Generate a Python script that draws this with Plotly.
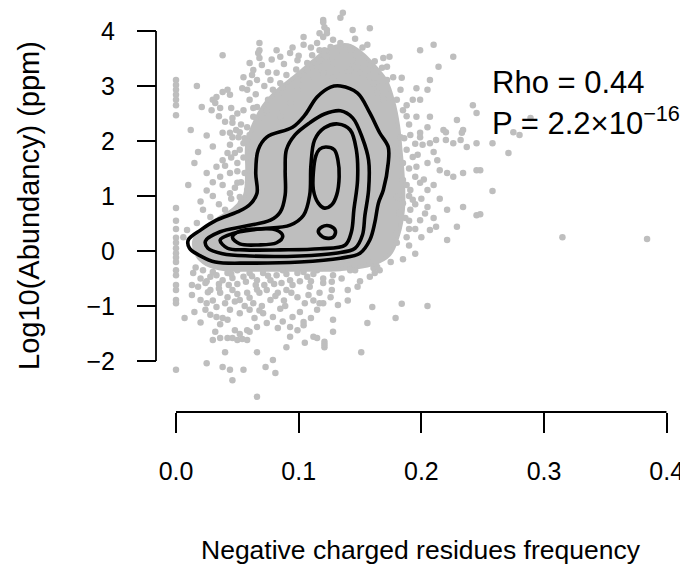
import plotly.graph_objects as go

GRAY = "#BEBEBE"
FONT = "Liberation Sans, Arial, Helvetica, sans-serif"

# ---------------- data ----------------
x_ticks = [0.0, 0.1, 0.2, 0.3, 0.4]
x_ticktext = ["0.0", "0.1", "0.2", "0.3", "0.4"]
y_ticks = [-2, -1, 0, 1, 2, 3, 4]

# outline of the region where points overlap into a solid grey mass
dense_core = [(0.015, 0.20), (0.022, 0.40), (0.034, 0.58), (0.047, 0.76), (0.056, 1.00),
              (0.058, 1.45), (0.058, 1.92), (0.063, 2.28), (0.071, 2.62), (0.082, 2.90),
              (0.094, 3.12), (0.106, 3.34), (0.117, 3.55), (0.128, 3.70), (0.140, 3.74),
              (0.151, 3.60), (0.161, 3.38), (0.171, 3.10), (0.177, 2.72), (0.181, 2.28),
              (0.183, 1.84), (0.185, 1.29), (0.185, 0.75), (0.181, 0.29), (0.174, -0.06),
              (0.160, -0.24), (0.134, -0.33), (0.101, -0.34), (0.068, -0.34), (0.040, -0.33),
              (0.025, -0.24), (0.017, -0.07), (0.015, 0.20)]

left_column = [(0, 3.11), (0, 3.02), (0, 2.93), (0, 2.84), (0, 2.75), (0, 2.65), (0, 2.47),
               (0, 0.78), (0, 0.55), (0, 0.40), (0, 0.24), (0, 0.15), (0, 0.05), (0, -0.04),
               (0, -0.12), (0, -0.20), (0, -0.35), (0, -0.44), (0, -0.62), (0, -0.71),
               (0, -0.89), (0, -0.95), (0, -2.16)]

upper_left = [(0.017, 3.0), (0.038, 3.56), (0.030, 2.75), (0.033, 2.80), (0.038, 2.89), (0.042, 2.93),
              (0.044, 2.84), (0.029, 2.56), (0.036, 2.60), (0.032, 2.69), (0.046, 2.42), (0.046, 2.33),
              (0.051, 2.07), (0.044, 2.15), (0.055, 3.16), (0.060, 3.42), (0.063, 3.29), (0.068, 3.65),
              (0.068, 3.78), (0.067, 3.60), (0.068, 3.51), (0.060, 3.05), (0.066, 3.11), (0.058, 2.93),
              (0.054, 2.96), (0.055, 2.56), (0.060, 2.75), (0.066, 2.62), (0.063, 2.44), (0.068, 2.33),
              (0.058, 2.25), (0.052, 2.16), (0.060, 2.11), (0.018, 1.80), (0.025, 1.42), (0.010, 1.20),
              (0.033, 1.53), (0.038, 1.65), (0.042, 1.78), (0.036, 1.35), (0.044, 1.42), (0.050, 1.60),
              (0.052, 1.84), (0.055, 1.96), (0.046, 2.07), (0.038, 2.15), (0.044, 1.93), (0.038, 1.20),
              (0.044, 1.05), (0.050, 1.24), (0.052, 0.98), (0.058, 1.11), (0.056, 1.42), (0.028, 0.62),
              (0.017, 0.51), (0.009, 0.38), (0.006, 0.25), (0.030, 1.00), (0.035, 0.85), (0.040, 0.75),
              (0.045, 0.95), (0.048, 1.15), (0.030, 1.25), (0.025, 1.10), (0.020, 0.90), (0.045, 1.70),
              (0.040, 1.55), (0.050, 1.45), (0.048, 1.78), (0.055, 1.70), (0.053, 2.30), (0.050, 2.50),
              (0.045, 2.60), (0.040, 2.35), (0.035, 2.45), (0.021, 2.62), (0.025, 2.10), (0.030, 1.90),
              (0.015, 1.60), (0.012, 2.20), (0.022, 0.75), (0.028, 0.35), (0.053, 1.25), (0.049, 2.20),
              (0.056, 2.05), (0.053, 0.88), (0.062, 3.20), (0.070, 3.38), (0.072, 3.00), (0.065, 2.85),
              (0.075, 2.75), (0.070, 2.48), (0.063, 2.60)]

upper_top = [(0.075, 3.25), (0.077, 3.11), (0.082, 3.24), (0.079, 2.93), (0.083, 2.84), (0.087, 2.98),
             (0.090, 2.84), (0.082, 3.65), (0.085, 3.53), (0.093, 3.60), (0.099, 3.47), (0.104, 3.75),
             (0.107, 3.42), (0.104, 3.89), (0.111, 3.56), (0.120, 4.20), (0.121, 4.07), (0.123, 3.96),
             (0.117, 3.65), (0.115, 3.78), (0.074, 2.56), (0.082, 2.56), (0.085, 2.44), (0.093, 2.69),
             (0.099, 2.93), (0.104, 3.11), (0.107, 3.29), (0.112, 3.16), (0.115, 3.35), (0.136, 4.33),
             (0.134, 4.24), (0.120, 4.16), (0.123, 4.02), (0.120, 3.89), (0.144, 4.02), (0.158, 4.05),
             (0.156, 3.75), (0.142, 3.65), (0.134, 3.78), (0.128, 3.84), (0.131, 3.60), (0.126, 3.71),
             (0.123, 3.53), (0.128, 3.42), (0.144, 3.47), (0.148, 3.35), (0.150, 3.24), (0.142, 3.29),
             (0.156, 3.29), (0.158, 3.16), (0.169, 3.51), (0.174, 3.53), (0.172, 3.35), (0.168, 3.33),
             (0.161, 3.05), (0.166, 2.98), (0.172, 3.11), (0.177, 3.16), (0.184, 3.15), (0.183, 2.93),
             (0.174, 2.80), (0.180, 2.75), (0.169, 2.75), (0.164, 2.87), (0.117, 3.96), (0.121, 3.65),
             (0.117, 3.47), (0.120, 3.24), (0.128, 3.16), (0.136, 3.24), (0.139, 3.05), (0.146, 3.86),
             (0.152, 3.70), (0.162, 3.45), (0.110, 3.70), (0.098, 3.30), (0.090, 3.20), (0.078, 3.48),
             (0.088, 3.40), (0.095, 3.70), (0.100, 3.55), (0.085, 3.05)]

right_side = [(0.199, 3.65), (0.210, 3.75), (0.226, 3.53), (0.214, 3.35), (0.207, 3.11), (0.196, 2.96),
              (0.193, 2.75), (0.188, 2.65), (0.185, 2.56), (0.205, 2.93), (0.199, 2.75), (0.242, 2.65),
              (0.245, 2.51), (0.229, 2.38), (0.218, 2.20), (0.234, 2.20), (0.207, 2.44), (0.205, 2.25),
              (0.196, 2.44), (0.199, 2.15), (0.258, 1.96), (0.275, 2.16), (0.280, 2.11), (0.289, 2.42),
              (0.271, 1.78), (0.248, 1.47), (0.258, 1.09), (0.248, 0.67), (0.315, 0.25), (0.384, 0.22),
              (0.183, 2.07), (0.191, 2.11), (0.199, 2.07), (0.201, 1.93), (0.207, 1.96), (0.212, 2.02),
              (0.220, 2.02), (0.226, 1.96), (0.232, 2.02), (0.237, 1.89), (0.245, 1.96), (0.220, 2.16),
              (0.233, 2.15), (0.180, 1.78), (0.188, 1.84), (0.193, 1.71), (0.185, 1.60), (0.196, 1.53),
              (0.205, 1.60), (0.213, 1.65), (0.215, 1.47), (0.221, 1.42), (0.226, 1.35), (0.234, 1.42),
              (0.245, 1.47), (0.185, 1.29), (0.191, 1.11), (0.199, 1.24), (0.205, 1.11), (0.193, 0.93),
              (0.185, 0.87), (0.180, 0.98), (0.182, 0.69), (0.191, 0.75), (0.199, 0.56), (0.207, 0.38),
              (0.212, 0.44), (0.221, 0.20), (0.229, 0.44), (0.221, 0.75), (0.234, 0.80), (0.245, 0.65),
              (0.205, 0.80), (0.180, 0.33), (0.188, 0.25), (0.180, 0.15), (0.190, 0.10), (0.195, -0.05),
              (0.185, -0.15), (0.175, -0.20), (0.190, 2.30), (0.195, 1.95), (0.190, 1.50), (0.195, 1.35),
              (0.190, 1.00), (0.195, 0.85), (0.190, 0.55), (0.195, 0.40), (0.200, 0.25), (0.190, 0.40),
              (0.197, 1.75), (0.202, 1.30), (0.200, 0.95), (0.210, 0.60), (0.203, 0.68), (0.210, 1.20),
              (0.215, 0.95), (0.210, 1.80), (0.188, 2.45), (0.186, 2.05), (0.188, 1.20), (0.187, 0.60)]

lower_cloud = [(0.128, -0.25), (0.142, -0.35), (0.158, -0.22), (0.161, -0.31), (0.119, -0.31),
               (0.128, -0.44), (0.127, -0.56), (0.120, -0.58), (0.127, -0.71), (0.126, -0.84),
               (0.120, -0.95), (0.132, -0.98), (0.140, -0.71), (0.148, -0.65), (0.146, -0.35),
               (0.164, -0.29), (0.166, -0.35), (0.158, -0.47), (0.162, -0.40), (0.134, -0.16),
               (0.139, -0.16), (0.160, -1.02), (0.184, -0.96), (0.205, -1.00), (0.179, -1.22),
               (0.156, -1.31), (0.128, -1.25), (0.128, -1.47), (0.121, -1.65), (0.121, -1.75),
               (0.151, -1.84), (0.007, -1.22), (0.013, -0.62), (0.018, -0.65), (0.024, -0.58),
               (0.026, -0.75), (0.020, -0.89), (0.015, -1.11), (0.024, -1.07), (0.028, -1.16),
               (0.033, -1.20), (0.038, -1.22), (0.042, -1.25), (0.032, -1.47), (0.030, -1.62),
               (0.036, -1.58), (0.042, -1.58), (0.046, -1.58), (0.050, -1.62), (0.054, -1.60),
               (0.058, -1.62), (0.048, -1.44), (0.052, -1.51), (0.060, -1.47), (0.025, -2.04),
               (0.038, -2.11), (0.044, -2.16), (0.046, -2.35), (0.055, -2.16), (0.040, -1.84),
               (0.066, -2.65), (0.066, -1.84), (0.073, -2.11), (0.079, -1.98), (0.081, -2.22),
               (0.083, -1.40), (0.090, -1.75), (0.093, -1.56), (0.104, -1.35), (0.105, -1.67),
               (0.115, -1.58), (0.121, -1.70), (0.014, -0.40), (0.022, -0.35), (0.028, -0.47),
               (0.033, -0.44), (0.038, -0.53), (0.042, -0.40), (0.046, -0.49), (0.050, -0.35),
               (0.055, -0.47), (0.060, -0.40), (0.066, -0.53), (0.071, -0.40), (0.077, -0.53),
               (0.082, -0.44), (0.087, -0.35), (0.093, -0.53), (0.099, -0.40), (0.107, -0.47),
               (0.115, -0.35), (0.120, -0.50), (0.028, -0.71), (0.036, -0.76), (0.042, -0.84),
               (0.046, -0.71), (0.052, -0.89), (0.058, -0.76), (0.063, -0.95), (0.068, -0.76),
               (0.074, -0.71), (0.077, -0.89), (0.083, -0.76), (0.090, -0.71), (0.099, -0.84),
               (0.109, -0.65), (0.117, -0.76), (0.033, -1.02), (0.044, -1.07), (0.052, -1.13),
               (0.060, -1.07), (0.071, -1.13), (0.079, -1.20), (0.095, -1.20), (0.101, -1.11),
               (0.093, -1.38), (0.104, -1.29), (0.115, -1.07), (0.117, -0.95), (0.112, -1.56),
               (0.099, -1.44), (0.074, -1.31), (0.066, -1.38), (0.058, -1.44), (0.020, -0.50),
               (0.035, -0.60), (0.050, -0.60), (0.065, -0.62), (0.080, -0.60), (0.095, -0.62),
               (0.110, -0.55), (0.030, -0.90), (0.060, -0.85), (0.088, -0.90), (0.105, -0.95),
               (0.040, -0.95), (0.070, -1.00), (0.085, -1.05), (0.016, -0.30), (0.030, -0.38),
               (0.045, -0.42), (0.062, -0.46), (0.075, -0.45), (0.090, -0.42), (0.104, -0.38),
               (0.112, -0.42), (0.025, -0.55), (0.043, -0.62), (0.057, -0.56), (0.072, -0.62),
               (0.086, -0.58), (0.101, -0.55), (0.013, -0.80), (0.035, -0.68), (0.050, -0.78),
               (0.066, -0.70), (0.081, -0.82), (0.094, -0.76), (0.108, -0.80), (0.025, -0.95),
               (0.048, -0.92), (0.056, -1.00), (0.068, -1.08), (0.089, -1.00), (0.112, -0.90),
               (0.020, -1.30), (0.036, -1.33), (0.064, -1.22), (0.087, -1.28), (0.110, -1.22),
               (0.140, -0.90), (0.150, -0.55), (0.135, -0.50)]

# density contour lines (outer to inner)
contour_1 = [(0.010, 0.20), (0.020, 0.38), (0.033, 0.56), (0.050, 0.71), (0.060, 0.84), (0.066, 1.05),
             (0.065, 1.42), (0.067, 1.84), (0.074, 2.07), (0.095, 2.25), (0.105, 2.47), (0.115, 2.80),
             (0.126, 2.98), (0.134, 3.00), (0.148, 2.87), (0.158, 2.51), (0.166, 2.15), (0.173, 1.89),
             (0.173, 1.60), (0.169, 1.11), (0.165, 0.87), (0.162, 0.51), (0.158, 0.20), (0.150, -0.04),
             (0.134, -0.13), (0.101, -0.20), (0.060, -0.22), (0.032, -0.20), (0.020, -0.09),
             (0.011, 0.05), (0.010, 0.20)]
contour_2 = [(0.024, 0.18), (0.036, 0.35), (0.056, 0.45), (0.077, 0.56), (0.085, 0.71), (0.089, 1.02),
             (0.089, 1.47), (0.090, 1.84), (0.097, 2.11), (0.109, 2.33), (0.121, 2.49), (0.134, 2.55),
             (0.144, 2.42), (0.152, 2.05), (0.157, 1.65), (0.157, 1.11), (0.154, 0.65), (0.152, 0.29),
             (0.146, 0.05), (0.130, -0.04), (0.101, -0.09), (0.060, -0.09), (0.038, -0.05),
             (0.026, 0.05), (0.024, 0.18)]
contour_3 = [(0.036, 0.20), (0.048, 0.33), (0.068, 0.40), (0.093, 0.47), (0.104, 0.65), (0.109, 1.02),
             (0.110, 1.56), (0.113, 2.02), (0.121, 2.24), (0.132, 2.31), (0.142, 2.20), (0.147, 1.84),
             (0.148, 1.29), (0.145, 0.75), (0.143, 0.35), (0.138, 0.11), (0.117, 0.04), (0.085, 0.02),
             (0.056, 0.02), (0.042, 0.05), (0.036, 0.20)]
contour_4a = [(0.122, 1.89), (0.129, 1.84), (0.132, 1.65), (0.133, 1.35), (0.131, 1.02), (0.127, 0.84),
              (0.121, 0.78), (0.116, 0.87), (0.112, 1.11), (0.112, 1.44), (0.114, 1.73), (0.117, 1.85),
              (0.122, 1.89)]
contour_4b = [(0.116, 0.35), (0.119, 0.44), (0.126, 0.45), (0.130, 0.36), (0.128, 0.25), (0.121, 0.24),
              (0.116, 0.35)]
contour_4c = [(0.046, 0.25), (0.052, 0.36), (0.067, 0.40), (0.082, 0.38), (0.087, 0.27), (0.082, 0.15),
              (0.067, 0.11), (0.052, 0.13), (0.046, 0.25)]

stats_rho = "Rho = 0.44"
stats_p = "P = 2.2×10<sup>−16</sup>"

# ---------------- figure ----------------
fig = go.Figure()

fig.add_trace(go.Scatter(
    x=[p[0] for p in dense_core], y=[p[1] for p in dense_core],
    mode="lines", fill="toself", fillcolor=GRAY,
    line=dict(color=GRAY, width=4, shape="spline"),
    hoverinfo="skip", showlegend=False))

all_points = left_column + upper_left + upper_top + right_side + lower_cloud
fig.add_trace(go.Scatter(
    x=[p[0] for p in all_points], y=[p[1] for p in all_points],
    mode="markers", marker=dict(size=6.5, color=GRAY, line=dict(width=0)),
    cliponaxis=False, showlegend=False))

for c in [contour_1, contour_2, contour_3, contour_4a, contour_4b, contour_4c]:
    fig.add_trace(go.Scatter(
        x=[p[0] for p in c], y=[p[1] for p in c], mode="lines",
        line=dict(color="black", width=3.6, shape="spline", smoothing=1.0),
        showlegend=False, hoverinfo="skip"))

# the page adds an 8 px body margin, so the figure is 8 px smaller each way
OFF = 8
W, H = 688 - OFF, 570 - OFF


def px(sx):      # screen x -> paper fraction
    return (sx - OFF) / W


def py(sy):      # screen y -> paper fraction
    return 1 - (sy - OFF) / H


X_AXIS_Y = py(412)
Y_AXIS_X = px(156)
AX = dict(color="black", width=1.8)

fig.update_layout(
    width=W, height=H,
    margin=dict(l=0, r=0, t=0, b=0, pad=0, autoexpand=False),
    paper_bgcolor="white", plot_bgcolor="white",
    font=dict(family=FONT, color="black"),
    xaxis=dict(domain=[px(157.6), px(666.7)], range=[-0.015, 0.4], anchor="free", position=X_AXIS_Y,
               showline=False, ticks="outside", ticklen=20, tickwidth=1.8, tickcolor="black",
               tickvals=x_ticks, ticktext=x_ticktext, tickfont=dict(size=25, color="black"),
               ticklabelstandoff=17, showgrid=False, zeroline=False),
    yaxis=dict(domain=[py(405), py(9)], range=[-2.8, 4.4], anchor="free", position=Y_AXIS_X,
               showline=False, ticks="outside", ticklen=19, tickwidth=1.8, tickcolor="black",
               tickvals=y_ticks, tickfont=dict(size=25, color="black"),
               ticklabelstandoff=17, showgrid=False, zeroline=False),
    shapes=[
        dict(type="line", xref="x", yref="paper", x0=x_ticks[0], x1=x_ticks[-1],
             y0=X_AXIS_Y, y1=X_AXIS_Y, line=AX),
        dict(type="line", xref="paper", yref="y", x0=Y_AXIS_X, x1=Y_AXIS_X,
             y0=y_ticks[0], y1=y_ticks[-1], line=AX),
    ],
    annotations=[
        dict(text="Negative charged residues frequency", xref="paper", yref="paper",
             x=px(421), y=py(550), xanchor="center", yanchor="middle", showarrow=False,
             font=dict(size=26.5, color="black", family=FONT)),
        dict(text="Log10(Abundancy) (ppm)", xref="paper", yref="paper", textangle=-90,
             x=px(29), y=py(206), xanchor="center", yanchor="middle", showarrow=False,
             font=dict(size=29, color="black", family=FONT)),
        dict(text=stats_rho, xref="paper", yref="paper", x=px(490), y=py(82),
             xanchor="left", yanchor="middle", showarrow=False,
             font=dict(size=31, color="black", family=FONT)),
        dict(text=stats_p, xref="paper", yref="paper", x=px(490), y=py(121),
             xanchor="left", yanchor="middle", showarrow=False,
             font=dict(size=31, color="black", family=FONT)),
    ],
)

fig.write_html("out.html")
